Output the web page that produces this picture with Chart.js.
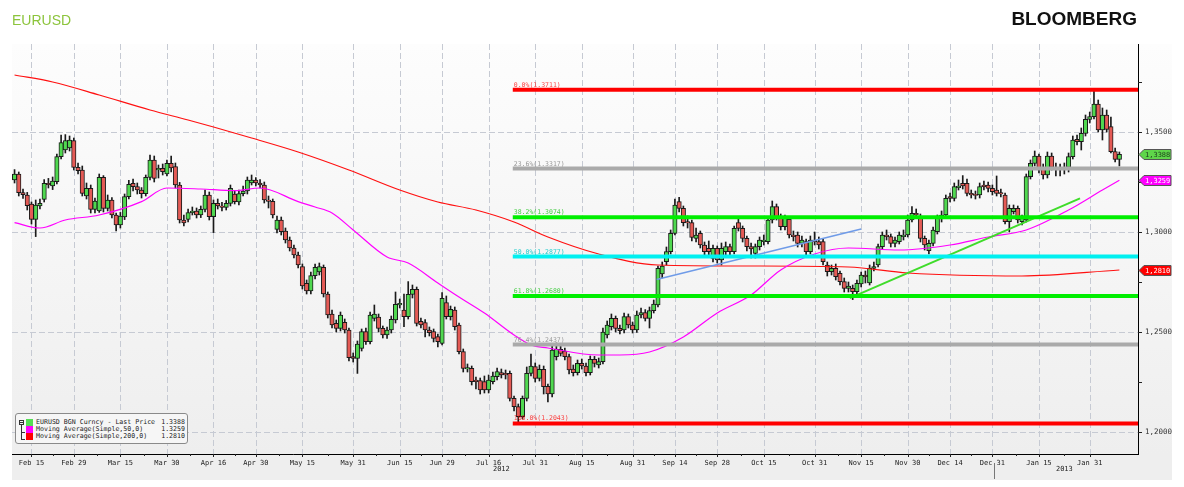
<!DOCTYPE html>
<html>
<head>
<meta charset="utf-8">
<title>EURUSD</title>
<script src="https://cdn.jsdelivr.net/npm/chart.js@4.4.0/dist/chart.umd.min.js"></script>
<style>
  html, body { margin: 0; padding: 0; background: #fff; }
  #wrap { position: relative; width: 1184px; height: 487px; overflow: hidden; }
  #chart { position: absolute; left: 0; top: 0; }
  #title { position: absolute; left: 12px; top: 12px; font: 14px "Liberation Sans", Arial, sans-serif; color: #8cc43c; }
  #brand { position: absolute; right: 47px; top: 8px; font: bold 19px "Liberation Sans", Arial, sans-serif; color: #111; }
  #legend { position: absolute; left: 15px; top: 413px; width: 171px; height: 29px; border: 1px solid #8a8a8a; border-radius: 3px; background: #f6f6f6; font: 6.6px "DejaVu Sans Mono", monospace; color: #222; }
  .row { position: absolute; left: 0; width: 171px; height: 7px; line-height: 7px; }
  .sw { position: absolute; left: 10px; top: 0; width: 7px; height: 7px; }
  .nm { position: absolute; left: 20px; top: 0; white-space: nowrap; }
  .vl { position: absolute; right: 2px; top: 0; }
  .tree { position: absolute; background: #333; }
</style>
</head>
<body>
<div id="wrap">
  <canvas id="chart" width="1184" height="487"></canvas>
  <div id="title">EURUSD</div>
  <div id="brand">BLOOMBERG</div>
  <div id="legend"></div>
</div>
<script>
// daily candles, Feb 9 2012 .. Feb 11 2013 (weekdays, Dec 25 skipped)
const opens = [
  1.3260,1.3289,1.3197,1.3185,1.3140,1.3063,1.3130,1.3163,1.3243,1.3230,
  1.3252,1.3377,1.3410,1.3420,1.3457,1.3323,1.3310,1.3180,1.3218,1.3113,
  1.3105,1.3273,1.3118,1.3160,1.3085,1.3035,1.3075,1.3177,1.3243,1.3227,
  1.3210,1.3192,1.3273,1.3360,1.3310,1.3318,1.3290,1.3343,1.3327,1.3235,
  1.3060,1.3063,1.3097,1.3105,1.3085,1.3113,1.3185,1.3077,1.3143,1.3130,
  1.3123,1.3143,1.3190,1.3150,1.3192,1.3205,1.3245,1.3260,1.3245,1.3235,
  1.3160,1.3153,1.3013,1.3060,1.3005,1.2960,1.2920,1.2885,1.2827,1.2743,
  1.2705,1.2782,1.2800,1.2823,1.2690,1.2590,1.2543,1.2518,1.2548,1.2510,
  1.2377,1.2368,1.2418,1.2502,1.2452,1.2568,1.2575,1.2518,1.2485,1.2510,
  1.2560,1.2635,1.2610,1.2577,1.2688,1.2713,1.2553,1.2547,1.2510,1.2502,
  1.2477,1.2443,1.2647,1.2577,1.2610,1.2535,1.2402,1.2315,1.2318,1.2260,
  1.2257,1.2252,1.2210,1.2252,1.2277,1.2297,1.2293,1.2293,1.2168,1.2127,
  1.2077,1.2168,1.2293,1.2327,1.2268,1.2313,1.2228,1.2190,1.2377,1.2413,
  1.2405,1.2377,1.2315,1.2297,1.2343,1.2330,1.2297,1.2363,1.2335,1.2352,
  1.2485,1.2527,1.2568,1.2518,1.2510,1.2577,1.2535,1.2510,1.2585,1.2597,
  1.2568,1.2607,1.2635,1.2790,1.2852,1.2902,1.2993,1.3152,1.3118,1.3052,
  1.3047,1.2968,1.2993,1.2935,1.2918,1.2868,1.2918,1.2860,1.2902,1.2927,
  1.2902,1.3047,1.3018,1.2968,1.2927,1.2893,1.2927,1.2952,1.2952,1.3060,
  1.3127,1.3077,1.3027,1.3063,1.2985,1.2985,1.2943,1.2952,1.2902,1.2960,
  1.2952,1.2952,1.2835,1.2802,1.2818,1.2793,1.2752,1.2718,1.2718,1.2702,
  1.2740,1.2785,1.2745,1.2818,1.2835,1.2927,1.2985,1.2977,1.2943,1.2952,
  1.2977,1.2985,1.3060,1.3093,1.3077,1.2968,1.2907,1.2943,1.3002,1.3068,
  1.3085,1.3177,1.3168,1.3222,1.3243,1.3243,1.3193,1.3188,1.3185,1.3235,
  1.3235,1.3218,1.3210,1.3197,1.3185,1.3052,1.3102,1.3118,1.3052,1.3060,
  1.3277,1.3343,1.3380,1.3323,1.3285,1.3380,1.3323,1.3323,1.3315,1.3323,
  1.3377,1.3463,1.3452,1.3493,1.3563,1.3577,1.3640,1.3510,1.3585,1.3527,
  1.3402,1.3363
];
const highs = [
  1.3312,1.3300,1.3215,1.3198,1.3150,1.3160,1.3165,1.3262,1.3268,1.3275,
  1.3390,1.3485,1.3487,1.3480,1.3470,1.3345,1.3330,1.3245,1.3235,1.3170,
  1.3290,1.3282,1.3185,1.3172,1.3095,1.3098,1.3190,1.3258,1.3265,1.3245,
  1.3222,1.3285,1.3385,1.3380,1.3335,1.3340,1.3360,1.3380,1.3345,1.3248,
  1.3085,1.3115,1.3125,1.3120,1.3130,1.3210,1.3200,1.3160,1.3165,1.3148,
  1.3158,1.3235,1.3205,1.3210,1.3230,1.3275,1.3285,1.3272,1.3262,1.3250,
  1.3180,1.3165,1.3080,1.3075,1.3020,1.2975,1.2935,1.2900,1.2840,1.2760,
  1.2800,1.2840,1.2845,1.2835,1.2700,1.2610,1.2560,1.2600,1.2565,1.2520,
  1.2395,1.2455,1.2515,1.2520,1.2600,1.2635,1.2590,1.2530,1.2525,1.2580,
  1.2700,1.2665,1.2690,1.2752,1.2735,1.2725,1.2570,1.2562,1.2525,1.2515,
  1.2490,1.2697,1.2680,1.2630,1.2625,1.2545,1.2415,1.2340,1.2330,1.2275,
  1.2270,1.2280,1.2285,1.2300,1.2320,1.2315,1.2310,1.2305,1.2180,1.2140,
  1.2180,1.2325,1.2390,1.2345,1.2335,1.2330,1.2240,1.2440,1.2445,1.2435,
  1.2420,1.2390,1.2335,1.2360,1.2365,1.2345,1.2380,1.2378,1.2370,1.2520,
  1.2555,1.2590,1.2580,1.2535,1.2595,1.2590,1.2550,1.2605,1.2620,1.2612,
  1.2625,1.2660,1.2830,1.2850,1.2925,1.3010,1.3165,1.3173,1.3130,1.3080,
  1.3060,1.3020,1.3005,1.2950,1.2955,1.2935,1.2930,1.2945,1.2950,1.2940,
  1.3030,1.3070,1.3030,1.2980,1.2945,1.2940,1.2975,1.2985,1.3075,1.3155,
  1.3140,1.3090,1.3085,1.3075,1.3005,1.3000,1.2980,1.2965,1.2980,1.3000,
  1.2975,1.2965,1.2850,1.2835,1.2840,1.2805,1.2770,1.2750,1.2735,1.2760,
  1.2800,1.2805,1.2835,1.2850,1.2940,1.3000,1.3010,1.2990,1.2975,1.3000,
  1.3010,1.3085,1.3127,1.3115,1.3090,1.2980,1.2960,1.3025,1.3085,1.3105,
  1.3185,1.3195,1.3245,1.3260,1.3282,1.3265,1.3210,1.3205,1.3245,1.3255,
  1.3250,1.3235,1.3280,1.3215,1.3195,1.3135,1.3135,1.3130,1.3085,1.3290,
  1.3360,1.3405,1.3390,1.3340,1.3400,1.3395,1.3345,1.3340,1.3345,1.3395,
  1.3480,1.3485,1.3520,1.3585,1.3600,1.3711,1.3660,1.3620,1.3610,1.3575,
  1.3420,1.3400
];
const lows = [
  1.3245,1.3180,1.3168,1.3110,1.3040,1.2977,1.3115,1.3150,1.3220,1.3212,
  1.3240,1.3365,1.3395,1.3405,1.3310,1.3290,1.3180,1.3165,1.3095,1.3095,
  1.3098,1.3100,1.3105,1.3070,1.3005,1.3020,1.3062,1.3165,1.3205,1.3190,
  1.3170,1.3180,1.3260,1.3250,1.3270,1.3285,1.3280,1.3300,1.3220,1.3045,
  1.3030,1.3050,1.3085,1.3070,1.3072,1.3100,1.3060,1.2997,1.3115,1.3105,
  1.3110,1.3130,1.3140,1.3135,1.3180,1.3190,1.3235,1.3230,1.3220,1.3145,
  1.3120,1.3070,1.2995,1.2985,1.2945,1.2905,1.2870,1.2820,1.2715,1.2690,
  1.2690,1.2765,1.2785,1.2675,1.2570,1.2520,1.2500,1.2505,1.2495,1.2355,
  1.2350,1.2293,1.2405,1.2438,1.2440,1.2555,1.2500,1.2470,1.2468,1.2495,
  1.2545,1.2620,1.2527,1.2565,1.2670,1.2530,1.2520,1.2475,1.2480,1.2450,
  1.2425,1.2435,1.2565,1.2560,1.2510,1.2390,1.2300,1.2300,1.2235,1.2215,
  1.2190,1.2195,1.2195,1.2240,1.2260,1.2270,1.2265,1.2155,1.2105,1.2043,
  1.2065,1.2155,1.2280,1.2250,1.2255,1.2190,1.2150,1.2175,1.2360,1.2380,
  1.2360,1.2290,1.2280,1.2285,1.2315,1.2280,1.2285,1.2325,1.2320,1.2340,
  1.2470,1.2510,1.2500,1.2490,1.2495,1.2520,1.2495,1.2498,1.2570,1.2555,
  1.2520,1.2595,1.2625,1.2770,1.2835,1.2890,1.2985,1.3100,1.3030,1.3020,
  1.2955,1.2950,1.2920,1.2885,1.2880,1.2850,1.2845,1.2835,1.2885,1.2880,
  1.2890,1.3005,1.2950,1.2905,1.2870,1.2870,1.2910,1.2935,1.2940,1.3045,
  1.3060,1.3010,1.3010,1.2970,1.2955,1.2925,1.2925,1.2885,1.2890,1.2935,
  1.2915,1.2835,1.2780,1.2785,1.2760,1.2735,1.2700,1.2700,1.2662,1.2685,
  1.2725,1.2745,1.2735,1.2805,1.2825,1.2915,1.2960,1.2925,1.2925,1.2940,
  1.2960,1.2975,1.3050,1.3070,1.2950,1.2910,1.2890,1.2930,1.2990,1.3050,
  1.3075,1.3150,1.3155,1.3210,1.3215,1.3180,1.3170,1.3165,1.3170,1.3210,
  1.3200,1.3185,1.3180,1.3175,1.3040,1.3000,1.3090,1.3045,1.3035,1.3050,
  1.3265,1.3330,1.3295,1.3265,1.3270,1.3310,1.3280,1.3280,1.3290,1.3300,
  1.3365,1.3435,1.3410,1.3480,1.3545,1.3565,1.3500,1.3460,1.3500,1.3395,
  1.3350,1.3330
];
const closes = [
  1.3289,1.3197,1.3187,1.3132,1.3063,1.3135,1.3143,1.3243,1.3237,1.3255,
  1.3377,1.3447,1.3457,1.3460,1.3323,1.3307,1.3193,1.3218,1.3113,1.3155,
  1.3273,1.3118,1.3160,1.3085,1.3035,1.3080,1.3177,1.3238,1.3227,1.3210,
  1.3192,1.3273,1.3360,1.3268,1.3318,1.3302,1.3343,1.3320,1.3235,1.3060,
  1.3045,1.3097,1.3105,1.3085,1.3113,1.3185,1.3077,1.3143,1.3130,1.3123,
  1.3143,1.3218,1.3152,1.3192,1.3205,1.3260,1.3260,1.3245,1.3235,1.3160,
  1.3153,1.3085,1.3060,1.3002,1.2960,1.2920,1.2885,1.2835,1.2730,1.2705,
  1.2782,1.2823,1.2827,1.2690,1.2585,1.2535,1.2518,1.2585,1.2510,1.2372,
  1.2368,1.2440,1.2502,1.2452,1.2585,1.2590,1.2518,1.2485,1.2510,1.2563,
  1.2638,1.2643,1.2577,1.2688,1.2713,1.2543,1.2535,1.2510,1.2497,1.2468,
  1.2452,1.2668,1.2577,1.2613,1.2527,1.2402,1.2318,1.2322,1.2252,1.2252,
  1.2210,1.2210,1.2260,1.2280,1.2302,1.2285,1.2285,1.2168,1.2127,1.2077,
  1.2168,1.2293,1.2330,1.2268,1.2313,1.2227,1.2190,1.2410,1.2413,1.2393,
  1.2377,1.2310,1.2297,1.2343,1.2330,1.2297,1.2363,1.2343,1.2352,1.2500,
  1.2535,1.2568,1.2518,1.2507,1.2577,1.2535,1.2510,1.2585,1.2597,1.2568,
  1.2607,1.2640,1.2818,1.2830,1.2902,1.2993,1.3135,1.3118,1.3047,1.3045,
  1.2973,1.2985,1.2935,1.2902,1.2902,1.2918,1.2860,1.2918,1.2927,1.2902,
  1.3018,1.3018,1.2968,1.2927,1.2915,1.2927,1.2960,1.2960,1.3060,1.3127,
  1.3077,1.3027,1.3068,1.2985,1.2977,1.2943,1.2960,1.2902,1.2960,1.2952,
  1.2935,1.2852,1.2802,1.2818,1.2777,1.2752,1.2718,1.2730,1.2702,1.2743,
  1.2785,1.2775,1.2818,1.2827,1.2927,1.2985,1.2977,1.2943,1.2960,1.2985,
  1.2985,1.3060,1.3093,1.3085,1.2968,1.2935,1.2943,1.3010,1.3068,1.3085,
  1.3168,1.3168,1.3227,1.3230,1.3230,1.3193,1.3185,1.3183,1.3227,1.3227,
  1.3218,1.3202,1.3193,1.3190,1.3052,1.3118,1.3118,1.3060,1.3068,1.3277,
  1.3343,1.3380,1.3310,1.3285,1.3380,1.3323,1.3315,1.3313,1.3323,1.3377,
  1.3460,1.3452,1.3493,1.3563,1.3577,1.3640,1.3510,1.3585,1.3513,1.3402,
  1.3363,1.3388
];

// moving averages (day index -> value)
const ma50Days = [0, 6, 12, 20, 30, 36, 44, 52, 58, 67, 71, 75, 80, 88, 93, 100, 105, 111, 118, 122, 126, 138, 143, 150, 158, 166, 174, 181, 189, 197, 209, 221, 230, 239, 249, 257, 261];
const ma50 = [1.3047, 1.3020, 1.3060, 1.3085, 1.3152, 1.3220, 1.3215, 1.3207, 1.3220, 1.3152, 1.3125, 1.3095, 1.3010, 1.2875, 1.2845, 1.2745, 1.2675, 1.2595, 1.2485, 1.2435, 1.2420, 1.2385, 1.2385, 1.2400, 1.2475, 1.2595, 1.2685, 1.2810, 1.2890, 1.2920, 1.2910, 1.2935, 1.2975, 1.3010, 1.3110, 1.3210, 1.3259];
const ma200Days = [0, 9, 20, 32, 41, 47, 56, 67, 79, 91, 100, 109, 118, 126, 138, 152, 174, 197, 211, 238, 261];
const ma200 = [1.3785, 1.3750, 1.3685, 1.3610, 1.3560, 1.3525, 1.3470, 1.3400, 1.3310, 1.3210, 1.3150, 1.3110, 1.3050, 1.2975, 1.2890, 1.2835, 1.2830, 1.2825, 1.2795, 1.2780, 1.2810];

// fibonacci retracement
const fibNames = ['0.0%', '23.6%', '38.2%', '50.0%', '61.8%', '76.4%', '100.0%'];
const fibLevels = [1.3711, 1.3317, 1.3074, 1.2877, 1.2680, 1.2437, 1.2043];
const fibColors = ['#ff0000', '#aaaaaa', '#00ee00', '#00f0f0', '#00ee00', '#aaaaaa', '#ff0000'];
const fibText = ['rgba(255,0,0,0.75)', '#9a9a9a', '#44cc44', '#22cccc', '#44cc44', '#9a9a9a', 'rgba(255,0,0,0.75)'];
const fibFrom = 117.7;

// trend lines [day, value]
const trendBlue = [[151.7, 1.2763], [200.0, 1.3015]];
const trendGreen = [[197.3, 1.2669], [251.7, 1.3168]];

const tickDates = ['2012-02-15','2012-02-29','2012-03-15','2012-03-30','2012-04-16','2012-04-30','2012-05-15','2012-05-31',
  '2012-06-15','2012-06-29','2012-07-16','2012-07-31','2012-08-15','2012-08-31','2012-09-14','2012-09-28','2012-10-15',
  '2012-10-31','2012-11-15','2012-11-30','2012-12-14','2012-12-31','2013-01-15','2013-01-31'];
const yearNames = ['2012', '2013'];
const yearAt = [115, 248];

const legendNames = ['EURUSD BGN Curncy - Last Price', 'Moving Average(Simple,50,0)', 'Moving Average(Simple,200,0)'];
const legendColors = ['#55dd55', '#ff00ff', '#ff0000'];

const firstDay = Date.UTC(2012, 1, 9);
const skipDays = ['2012-12-25'];
const months = ['Jan','Feb','Mar','Apr','May','Jun','Jul','Aug','Sep','Oct','Nov','Dec'];

// trading days for the candles
const days = [];
let d = new Date(firstDay);
while (days.length < closes.length) {
  const iso = d.toISOString().slice(0, 10);
  const wd = d.getUTCDay();
  if (wd !== 0 && wd !== 6 && !skipDays.includes(iso)) days.push(iso);
  d.setUTCDate(d.getUTCDate() + 1);
}
const tickIdx = tickDates.map(t => days.indexOf(t));
const tickText = tickDates.map(t => months[+t.slice(5, 7) - 1] + ' ' + t.slice(8));
const yearSep = days.indexOf('2013-01-01') - 0.5;

const xMin = -0.6, xMax = 265.4;
const yMin = 1.189, yMax = 1.394;
const green = '#50d850', red = '#e45a55';

const last = closes.length - 1;
const flagVals = [closes[last], ma50[ma50.length - 1], ma200[ma200.length - 1]];
const flagFill = ['#5fd64a', '#ff00ff', '#ff0000'];
const flagInk = ['#1d3d1d', '#ffffff', '#ffffff'];

// legend box
const lg = document.getElementById('legend');
legendNames.forEach((n, k) => {
  const r = document.createElement('div');
  r.className = 'row';
  r.style.top = (5 + k * 7) + 'px';
  r.innerHTML = '<span class="sw" style="background:' + legendColors[k] + '"></span><span class="nm">' + n +
    '</span><span class="vl">' + flagVals[k].toFixed(4) + '</span>';
  lg.appendChild(r);
});
lg.insertAdjacentHTML('beforeend',
  '<div class="tree" style="left:3px;top:6px;width:5px;height:5px;background:none;border:1px solid #333;box-sizing:border-box"></div>' +
  '<div class="tree" style="left:4px;top:8px;width:3px;height:1px"></div>' +
  '<div class="tree" style="left:5px;top:11px;width:1px;height:15px"></div>' +
  '<div class="tree" style="left:5px;top:18px;width:4px;height:1px"></div>' +
  '<div class="tree" style="left:5px;top:25px;width:4px;height:1px"></div>');

const bodyData = closes.map((c, i) => ({x: i, y: [opens[i], c]}));
const wickData = closes.map((c, i) => ({x: i, y: [lows[i], highs[i]]}));

const bgPlugin = {
  id: 'bg',
  beforeDraw(chart) {
    const {ctx, chartArea: a} = chart;
    ctx.save();
    ctx.fillStyle = '#fff';
    ctx.fillRect(0, 0, chart.width, chart.height);
    const g = ctx.createLinearGradient(0, a.top, 0, a.bottom);
    g.addColorStop(0, '#fdfdfd');
    g.addColorStop(1, '#eeeeee');
    ctx.fillStyle = g;
    ctx.fillRect(a.left, a.top, a.right - a.left, a.bottom - a.top);
    ctx.fillRect(a.right, a.top, 34, a.bottom - a.top);
    ctx.fillStyle = '#eeeeee';
    ctx.fillRect(a.left, a.bottom, a.right + 34 - a.left, 26);
    ctx.restore();
  },
  beforeDatasetsDraw(chart) {
    const {ctx, chartArea: a, scales: {x, y}} = chart;
    ctx.save();
    ctx.strokeStyle = '#c6cad3';
    ctx.lineWidth = 1;
    ctx.setLineDash([6, 3]);
    tickIdx.forEach(v => {
      const px = Math.round(x.getPixelForValue(v)) + 0.5;
      ctx.beginPath(); ctx.moveTo(px, a.top); ctx.lineTo(px, a.bottom); ctx.stroke();
    });
    [1.20, 1.25, 1.30, 1.35].forEach(v => {
      const py = Math.round(y.getPixelForValue(v)) + 0.5;
      ctx.beginPath(); ctx.moveTo(a.left, py); ctx.lineTo(a.right, py); ctx.stroke();
    });
    ctx.restore();
  }
};

const markPlugin = {
  id: 'marks',
  afterDraw(chart) {
    const {ctx, chartArea: a, scales: {x, y}} = chart;
    ctx.save();
    // fib labels
    ctx.font = '6.5px "DejaVu Sans Mono", monospace';
    ctx.textBaseline = 'alphabetic';
    fibLevels.forEach((v, k) => {
      ctx.fillStyle = fibText[k];
      ctx.fillText(fibNames[k] + '(' + v.toFixed(4) + ')', x.getPixelForValue(fibFrom) + 1, y.getPixelForValue(v) - 3);
    });
    // y ticks
    ctx.strokeStyle = '#222';
    ctx.lineWidth = 1;
    for (let v = 1.2; v < yMax; v += 0.025) {
      const py = Math.round(y.getPixelForValue(v)) + 0.5;
      ctx.beginPath(); ctx.moveTo(a.right, py); ctx.lineTo(a.right + 4, py); ctx.stroke();
    }
    // x ticks
    tickIdx.forEach((v, k) => {
      let px = Math.round(x.getPixelForValue(v)) + 0.5;
      ctx.beginPath(); ctx.moveTo(px, a.bottom); ctx.lineTo(px, a.bottom + 3); ctx.stroke();
      if (k < tickIdx.length - 1) {
        px = Math.round(x.getPixelForValue((v + tickIdx[k + 1]) / 2)) + 0.5;
        ctx.beginPath(); ctx.moveTo(px, a.bottom); ctx.lineTo(px, a.bottom + 2); ctx.stroke();
      }
    });
    // year separator and labels
    ctx.strokeStyle = '#777';
    const sx = Math.round(x.getPixelForValue(yearSep)) + 0.5;
    ctx.beginPath(); ctx.moveTo(sx, a.bottom + 9); ctx.lineTo(sx, a.bottom + 25); ctx.stroke();
    ctx.fillStyle = '#222';
    ctx.font = '7px "DejaVu Sans Mono", monospace';
    ctx.textAlign = 'center';
    ctx.textBaseline = 'middle';
    yearNames.forEach((t, k) => ctx.fillText(t, x.getPixelForValue(yearAt[k]), a.bottom + 15));
    // value flags
    ctx.textAlign = 'left';
    flagVals.forEach((v, k) => {
      const py = Math.round(y.getPixelForValue(v)) + 0.5;
      const x0 = a.right + 1;
      ctx.beginPath();
      ctx.moveTo(x0, py); ctx.lineTo(x0 + 5, py - 5); ctx.lineTo(x0 + 32, py - 5);
      ctx.lineTo(x0 + 32, py + 5); ctx.lineTo(x0 + 5, py + 5); ctx.closePath();
      ctx.fillStyle = flagFill[k]; ctx.fill();
      ctx.strokeStyle = '#555'; ctx.stroke();
      ctx.fillStyle = flagInk[k];
      ctx.fillText(v.toFixed(4).replace('.', ','), x0 + 6, py + 0.5);
    });
    ctx.restore();
  }
};

const datasets = [];
fibLevels.forEach((v, k) => datasets.push({
  type: 'line', data: [{x: fibFrom, y: v}, {x: xMax, y: v}],
  borderColor: fibColors[k], borderWidth: 4, pointRadius: 0, order: 0
}));
datasets.push({type: 'line', data: trendBlue.map(p => ({x: p[0], y: p[1]})), borderColor: '#6f9be8', borderWidth: 1.5, pointRadius: 0, order: 1});
datasets.push({type: 'line', data: trendGreen.map(p => ({x: p[0], y: p[1]})), borderColor: '#3fdc2a', borderWidth: 2, pointRadius: 0, order: 1});
datasets.push({type: 'line', data: ma50Days.map((x, k) => ({x: x, y: ma50[k]})), borderColor: '#ff00ff', borderWidth: 1.2,
  pointRadius: 0, cubicInterpolationMode: 'monotone', order: 2});
datasets.push({type: 'line', data: ma200Days.map((x, k) => ({x: x, y: ma200[k]})), borderColor: '#ff1010', borderWidth: 1.2,
  pointRadius: 0, cubicInterpolationMode: 'monotone', order: 2});
datasets.push({type: 'bar', data: bodyData, grouped: false, barThickness: 4.4, borderWidth: 1, borderSkipped: false,
  borderColor: '#1a1a1a', backgroundColor: c => closes[c.dataIndex] >= opens[c.dataIndex] ? green : red, order: 3});
datasets.push({type: 'bar', data: wickData, grouped: false, barThickness: 1, borderWidth: 0,
  backgroundColor: '#1a1a1a', order: 4});

new Chart(document.getElementById('chart'), {
  type: 'bar',
  data: {datasets: datasets},
  plugins: [bgPlugin, markPlugin],
  options: {
    responsive: false,
    animation: false,
    layout: {padding: {left: 12, top: 44, right: 0, bottom: 0}},
    plugins: {legend: {display: false}, tooltip: {enabled: false}},
    scales: {
      x: {
        type: 'linear', min: xMin, max: xMax, offset: false,
        afterFit(s) { s.height = 33; },
        afterBuildTicks(s) { s.ticks = tickIdx.map(v => ({value: v})); },
        grid: {display: false, drawTicks: false},
        border: {display: true, color: '#000', width: 1},
        ticks: {autoSkip: false, maxRotation: 0, padding: 5, color: '#222',
          font: {family: '"DejaVu Sans Mono", monospace', size: 7},
          callback: (v, i) => tickText[i]}
      },
      y: {
        type: 'linear', position: 'right', min: yMin, max: yMax, beginAtZero: false,
        afterFit(s) { s.width = 46; },
        grid: {display: false, drawTicks: false},
        border: {display: true, color: '#000', width: 1},
        ticks: {stepSize: 0.025, padding: 7, color: '#333',
          font: {family: '"DejaVu Sans Mono", monospace', size: 7.5},
          callback: v => Math.round(v * 1000) % 50 === 0 ? v.toFixed(4).replace('.', ',') : ''}
      }
    }
  }
});
</script>
</body>
</html>
